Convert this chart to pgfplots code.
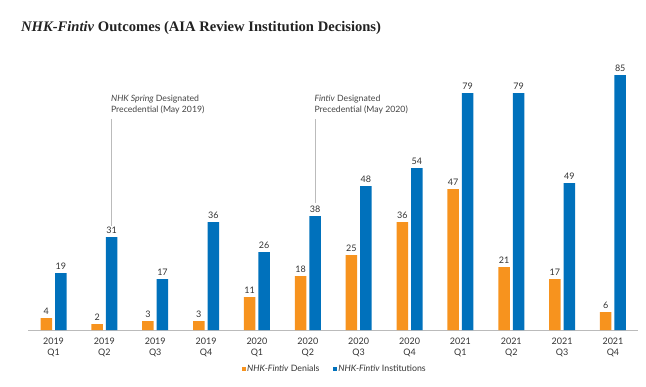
\documentclass[border=0pt]{standalone}
\usepackage{pgfplots}
\pgfplotsset{compat=1.18}
\usepackage{fontspec}
\setmainfont{Lato}
\newfontfamily\titlefont{Liberation Serif}
\definecolor{cOrange}{HTML}{F7931E}
\definecolor{cBlue}{HTML}{0071BC}
\definecolor{cText}{HTML}{333333}
\definecolor{cTitle}{HTML}{222222}
\definecolor{cAnn}{HTML}{444444}
\definecolor{cLine}{HTML}{BBBBBB}
\begin{document}
\begin{tikzpicture}
\useasboundingbox (-28.1pt,-56pt) rectangle (617.9pt,330pt);
\node[anchor=west, inner sep=0pt, text=cTitle] at (-7.1pt,302pt)
  {\titlefont\fontsize{14.6}{16}\selectfont\bfseries\textit{NHK-Fintiv} Outcomes (AIA Review Institution Decisions)};
\begin{axis}[
  scale only axis,
  width=610.3pt, height=270pt,
  xmin=-0.5, xmax=11.5, ymin=0, ymax=90,
  ybar=3pt, bar width=11.5pt,
  axis y line=none,
  axis x line*=bottom,
  x axis line style={cLine, -},
  xtick={0,...,11},
  xticklabels={{2019\\Q1},{2019\\Q2},{2019\\Q3},{2019\\Q4},{2020\\Q1},{2020\\Q2},{2020\\Q3},{2020\\Q4},{2021\\Q1},{2021\\Q2},{2021\\Q3},{2021\\Q4}},
  xticklabel style={align=center, font=\fontsize{9}{11}\selectfont, text=cText, yshift=-4pt},
  major tick length=0pt,
  tick style={draw=none},
  /pgf/number format/assume math mode=true,
  nodes near coords,
  every node near coord/.append style={font=\fontsize{9}{10}\selectfont, text=cText},
  clip=false,
  legend columns=2,
  legend style={at={(axis description cs:0.502,-0.144)}, anchor=center, draw=none, fill=none,
    font=\fontsize{8.8}{10}\selectfont, text=cText,
    /tikz/every even column/.append style={column sep=12pt},
    nodes={inner sep=1.5pt}},
  legend image code/.code={\fill[#1] (0pt,-2pt) rectangle (4pt,2pt);},
]
\addplot[fill=cOrange, draw=none] coordinates {(0,4) (1,2) (2,3) (3,3) (4,11) (5,18) (6,25) (7,36) (8,47) (9,21) (10,17) (11,6)};
\addlegendentry{\textit{NHK-Fintiv} Denials}
\addplot[fill=cBlue, draw=none] coordinates {(0,19) (1,31) (2,17) (3,36) (4,26) (5,38) (6,48) (7,54) (8,79) (9,79) (10,49) (11,85)};
\addlegendentry{\textit{NHK-Fintiv} Institutions}
\draw[cLine, line width=0.6pt] ([xshift=7.25pt]axis cs:1,70.3) -- ([xshift=7.25pt]axis cs:1,34.6);
\draw[cLine, line width=0.6pt] ([xshift=7.25pt]axis cs:5,70.3) -- ([xshift=7.25pt]axis cs:5,42.2);
\node[anchor=west, align=left, inner sep=0pt, text=cAnn, font=\fontsize{8.7}{11}\selectfont]
  at ([xshift=6.5pt]axis cs:1,75.2) {\textit{NHK Spring} Designated\\Precedential (May 2019)};
\node[anchor=west, align=left, inner sep=0pt, text=cAnn, font=\fontsize{8.7}{11}\selectfont]
  at ([xshift=6.5pt]axis cs:5,75.2) {\textit{Fintiv} Designated\\Precedential (May 2020)};
\end{axis}
\end{tikzpicture}
\end{document}
